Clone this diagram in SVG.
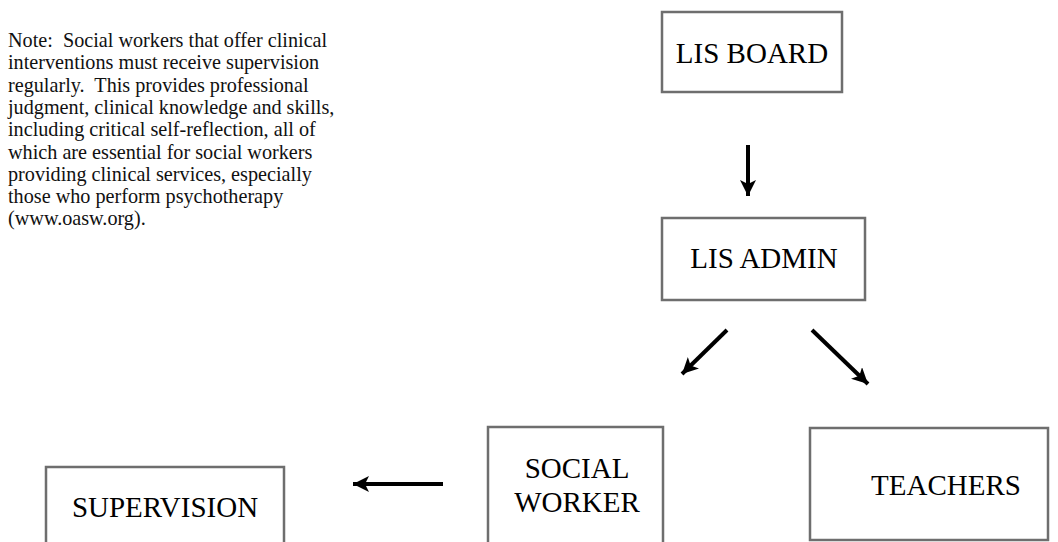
<svg xmlns="http://www.w3.org/2000/svg" width="1058" height="542" viewBox="0 0 1058 542">
<style>
.box{fill:#fff;stroke:#6e6e6e;stroke-width:2.5}
.lbl{font-family:'Liberation Serif','DejaVu Serif',serif;font-size:29px;fill:#000;text-anchor:middle}
.note{font-family:'Liberation Serif','DejaVu Serif',serif;font-size:20.2px;fill:#111;white-space:pre}
.arr{stroke:#000;stroke-width:4;fill:none;marker-end:url(#ah)}
</style>
<defs>
<marker id="ah" markerUnits="userSpaceOnUse" markerWidth="18" markerHeight="16" refX="16" refY="8" orient="auto">
<path d="M0,0 L16,8 L0,16 L4,8 Z" fill="#000"/>
</marker>
</defs>
<rect width="1058" height="542" fill="#fff"/>
<g id="note">
<text class="note" x="8" xml:space="preserve"><tspan x="8" y="47">Note:  Social workers that offer clinical</tspan><tspan x="8" y="69.3">interventions must receive supervision</tspan><tspan x="8" y="91.6">regularly.  This provides professional</tspan><tspan x="8" y="113.9">judgment, clinical knowledge and skills,</tspan><tspan x="8" y="136.2">including critical self-reflection, all of</tspan><tspan x="8" y="158.5">which are essential for social workers</tspan><tspan x="8" y="180.8">providing clinical services, especially</tspan><tspan x="8" y="203.1">those who perform psychotherapy</tspan><tspan x="8" y="225.4">(www.oasw.org).</tspan></text>
</g>
<g id="lis-board">
<rect class="box" x="662" y="12" width="180" height="80"/>
<text class="lbl" x="752" y="63">LIS BOARD</text>
</g>
<g id="lis-admin">
<rect class="box" x="662" y="218" width="203" height="82"/>
<text class="lbl" x="764" y="268">LIS ADMIN</text>
</g>
<g id="supervision">
<rect class="box" x="46" y="467" width="238" height="80"/>
<text class="lbl" x="165" y="517">SUPERVISION</text>
</g>
<g id="social-worker">
<rect class="box" x="488" y="427" width="175" height="120"/>
<text class="lbl" x="577" y="478">SOCIAL</text>
<text class="lbl" x="577" y="512">WORKER</text>
</g>
<g id="teachers">
<rect class="box" x="810" y="428" width="238" height="112"/>
<text class="lbl" x="946" y="495">TEACHERS</text>
</g>
<g id="connectors">
<line class="arr" x1="748" y1="145" x2="748" y2="196"/>
<line class="arr" x1="727" y1="330" x2="682" y2="374"/>
<line class="arr" x1="812" y1="330" x2="868" y2="384"/>
<line class="arr" x1="443" y1="484" x2="353" y2="484"/>
</g>
</svg>
